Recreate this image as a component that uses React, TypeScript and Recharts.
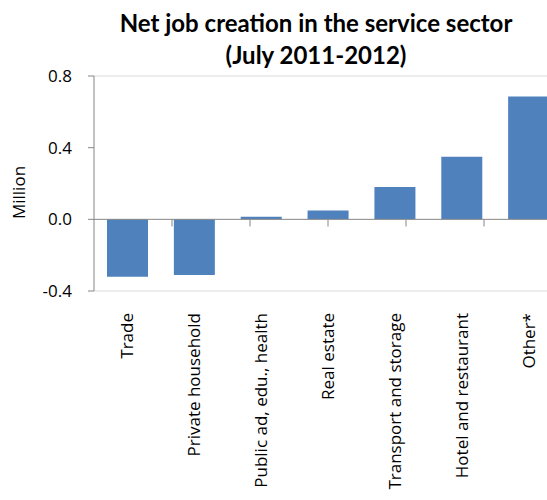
import { Bar, BarChart, Label, ReferenceLine, XAxis, YAxis } from 'recharts';

const categories = [
    'Trade',
    'Private household',
    'Public ad, edu., health',
    'Real estate',
    'Transport and storage',
    'Hotel and restaurant',
    'Other*',
];
const values = [-0.32, -0.31, 0.015, 0.05, 0.18, 0.35, 0.685];
const yTicks = [-0.4, 0, 0.4, 0.8];
const categoryBoundaries = [1, 2, 3, 4, 5, 6];

const data = categories.map((name, i) => ({ name, value: values[i] }));

const FONT = '"Open Sans", sans-serif';
const TITLE_FONT = 'Lato, "Open Sans", sans-serif';

function CategoryTick({ x, y, payload }: any) {
    const ty = y + 14;
    return (
        <text
            x={x}
            y={ty}
            transform={`rotate(-90, ${x}, ${ty})`}
            textAnchor="end"
            dy="0.35em"
            fontSize={17}
            fontFamily={FONT}
            fill="#000"
        >
            {payload.value}
        </text>
    );
}

function MillionLabel({ viewBox }: any) {
    const cx = viewBox.x + 19;
    const cy = viewBox.y + viewBox.height / 2 + 9;
    return (
        <text
            x={cx}
            y={cy}
            transform={`rotate(-90, ${cx}, ${cy})`}
            textAnchor="middle"
            dy="0.35em"
            fontSize={17}
            fontFamily={FONT}
            fill="#000"
        >
            Million
        </text>
    );
}

export default function App() {
    return (
        <div
            style={{
                position: 'fixed',
                left: 0,
                top: 0,
                width: 547,
                height: 500,
                overflow: 'hidden',
                background: '#fff',
            }}
        >
            <div
                style={{
                    position: 'absolute',
                    left: 116,
                    width: 400,
                    top: 7,
                    textAlign: 'center',
                    fontFamily: TITLE_FONT,
                    fontWeight: 700,
                    fontSize: 24,
                    lineHeight: '32px',
                    color: '#000',
                }}
            >
                Net job creation in the service sector
                <br />
                (July 2011-2012)
            </div>
            <BarChart
                width={580}
                height={500}
                data={data}
                margin={{ top: 76, right: 18, bottom: 0, left: 0 }}
            >
                <XAxis
                    dataKey="name"
                    height={209}
                    axisLine={false}
                    tickLine={false}
                    interval={0}
                    tick={<CategoryTick />}
                />
                <XAxis xAxisId="b" type="number" domain={[0, 7]} hide />
                <YAxis
                    width={94}
                    domain={[-0.4, 0.8]}
                    ticks={yTicks}
                    tickFormatter={(v: number) => v.toFixed(1)}
                    tick={{ fontSize: 17, fontFamily: FONT, fill: '#000' }}
                    tickSize={6}
                    tickMargin={16}
                    stroke="#868686"
                    allowDataOverflow
                >
                    <Label content={<MillionLabel />} />
                </YAxis>
                <ReferenceLine y={0.8} stroke="#d9d9d9" strokeWidth={1} />
                <ReferenceLine y={-0.4} stroke="#d9d9d9" strokeWidth={1} />
                <Bar
                    dataKey="value"
                    fill="#4f81bd"
                    barSize={41}
                    isAnimationActive={false}
                />
                <ReferenceLine y={0} stroke="#868686" strokeWidth={1} />
                {categoryBoundaries.map((b) => (
                    <ReferenceLine
                        key={b}
                        xAxisId="b"
                        segment={[
                            { x: b, y: 0 },
                            { x: b, y: -0.04 },
                        ]}
                        stroke="#868686"
                        strokeWidth={1}
                    />
                ))}
            </BarChart>
        </div>
    );
}
